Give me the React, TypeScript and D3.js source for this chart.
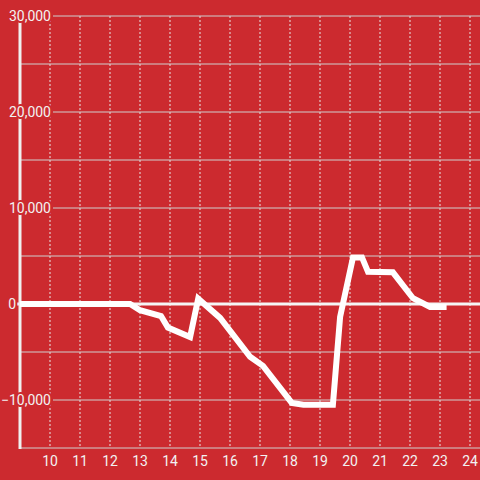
import React from "react";
import * as d3 from "d3";

const hours = [9, 12.67, 13.0, 13.7, 13.93, 14.67, 14.94, 15.67, 16.67, 17.1, 18.06, 18.45, 19.43, 19.67, 20.1, 20.4, 20.6, 21.43, 22.1, 22.67, 23.22];
const values = [0, 0, -650, -1250, -2450, -3450, 550, -1450, -5500, -6450, -10300, -10500, -10500, -1350, 4850, 4850, 3350, 3300, 600, -300, -300];
const yTicks = [-10000, 0, 10000, 20000, 30000];
const yGrid = [-15000, -5000, 5000, 15000, 25000];
const xTicks = [10, 11, 12, 13, 14, 15, 16, 17, 18, 19, 20, 21, 22, 23, 24];

const W = 480, H = 480;
const BG = "#cc2a2f";

export default function App() {
  const x = d3.scaleLinear().domain([9, 24]).range([20, 470]);
  const y = d3.scaleLinear().domain([-15000, 30000]).range([448, 16]);
  const pts = hours.map((h, i) => [h, values[i]] as [number, number]);
  const line = d3.line<[number, number]>().x(d => x(d[0])).y(d => y(d[1]));
  const fmt = d3.format(",");
  const font = "Roboto, 'Liberation Sans', sans-serif";
  return (
    <svg width={W} height={H} style={{ position: "absolute", left: 0, top: 0 }}>
      <rect x={0} y={0} width={W} height={H} fill={BG} />
      {xTicks.map(t => (
        <line key={"vx" + t} x1={x(t)} x2={x(t)} y1={16} y2={448} stroke="#e8e8e8" strokeWidth={1} strokeDasharray="2,2" />
      ))}
      {yGrid.map(t => (
        <line key={"hg" + t} x1={20} x2={W} y1={y(t)} y2={y(t)} stroke="#cfcfcf" strokeWidth={1} />
      ))}
      {yTicks.filter(t => t !== 0).map(t => (
        <line key={"ht" + t} x1={53} x2={W} y1={y(t)} y2={y(t)} stroke="#cfcfcf" strokeWidth={1} />
      ))}
      <line x1={17} x2={W} y1={y(0)} y2={y(0)} stroke="#f5f5f5" strokeWidth={3} />
      <line x1={20} x2={20} y1={16} y2={449} stroke="#f0f0f0" strokeWidth={3} />
      <path d={line(pts) || ""} fill="none" stroke="#ffffff" strokeWidth={6} strokeLinejoin="miter" strokeLinecap="butt" />
      {yTicks.map(t => (
        <text key={"yl" + t} x={t === 0 ? 16 : 51} y={y(t)} dy="0.35em" textAnchor="end" fontFamily={font} fontSize={14}
          fill="#f2f2f2" stroke={BG} strokeWidth={4} strokeLinejoin="round" style={{ paintOrder: "stroke" }}>{fmt(t)}</text>
      ))}
      {xTicks.map(t => (
        <text key={"xl" + t} x={x(t)} y={466} textAnchor="middle" fontFamily={font} fontSize={14} fill="#f2f2f2">{t}</text>
      ))}
    </svg>
  );
}
